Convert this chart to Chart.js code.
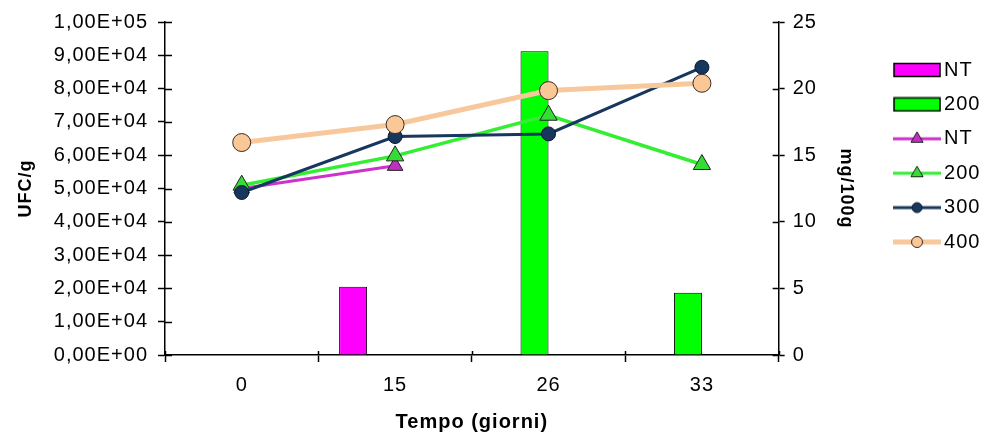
<!DOCTYPE html>
<html>
<head>
<meta charset="utf-8">
<script src="https://cdn.jsdelivr.net/npm/chart.js@4.4.0/dist/chart.umd.min.js"></script>
<style>
  html, body { margin: 0; padding: 0; background: #fff; }
  #wrap { width: 998px; height: 435px; }
</style>
</head>
<body>
<div id="wrap"><canvas id="c" width="998" height="435"></canvas></div>
<script>
// Sampling days
const giorni = ['0', '15', '26', '33'];

// UFC/g (bars, left axis)
const ufcNT  = [null, 20500, null, null];
const ufc200 = [null, null, 91200, 18700];
const ufc300 = [null, null, null, null];
const ufc400 = [null, null, null, null];

// mg/100g (lines, right axis)
const mgNT  = [12.5, 14.2, null, null];
const mg200 = [12.75, 14.95, 18.0, 14.3];
const mg300 = [12.2, 16.4, 16.6, 21.6];
const mg400 = [15.95, 17.3, 19.85, 20.4];

// Left axis ticks in Excel-style exponential notation, e.g. 1,00E+05
function expLabel(v) {
  if (v === 0) return '0,00E+00';
  const e = Math.floor(Math.log10(v));
  const m = (v / Math.pow(10, e)).toFixed(2).replace('.', ',');
  return m + 'E+' + String(e).padStart(2, '0');
}

Chart.defaults.font.family = '"Liberation Sans", Arial, sans-serif';
Chart.defaults.font.size = 20;
Chart.defaults.color = '#000';

// Legend swatches
function swatchBar(color) {
  const c = document.createElement('canvas');
  c.width = 48; c.height = 16;
  const g = c.getContext('2d');
  g.fillStyle = color;
  g.fillRect(1, 1.5, 46, 13);
  g.strokeStyle = '#000';
  g.lineWidth = 1.5;
  g.strokeRect(1, 1.5, 46, 13);
  return c;
}
function swatchLine(color, width, marker, fill, border, r) {
  const c = document.createElement('canvas');
  c.width = 48; c.height = 22;
  const g = c.getContext('2d');
  g.strokeStyle = color;
  g.lineWidth = width;
  g.beginPath(); g.moveTo(0, 11); g.lineTo(48, 11); g.stroke();
  g.fillStyle = fill;
  g.strokeStyle = border;
  g.lineWidth = 1;
  Chart.helpers.drawPoint(g, {pointStyle: marker, radius: r, rotation: 0, borderWidth: 1}, 24, 11);
  return c;
}

const legendEntries = [
  {text: 'NT',  img: swatchBar('#FF00FF')},
  {text: '200', img: swatchBar('#00FF00')},
  {text: 'NT',  img: swatchLine('#CC33CC', 3, 'triangle', '#C030C0', '#222', 7)},
  {text: '200', img: swatchLine('#33EE33', 3, 'triangle', '#33DD33', '#222', 7)},
  {text: '300', img: swatchLine('#17375E', 3, 'circle', '#17375E', '#0a1a30', 5)},
  {text: '400', img: swatchLine('#F7C89C', 5, 'circle', '#FAC896', '#3a2a20', 5.5)}
];

// Excel-style cross ticks: the inner half of each tick mark
const crossTicks = {
  id: 'crossTicks',
  beforeDraw(chart) { chart.ctx.letterSpacing = '1px'; },
  afterDraw(chart) {
    const {ctx, chartArea, scales} = chart;
    ctx.save();
    ctx.strokeStyle = '#000';
    ctx.lineWidth = 1.5;
    ctx.beginPath();
    scales.y.ticks.forEach(t => {
      const py = Math.round(scales.y.getPixelForValue(t.value)) + 0.5;
      ctx.moveTo(chartArea.left, py); ctx.lineTo(chartArea.left + 7, py);
    });
    scales.y1.ticks.forEach(t => {
      const py = Math.round(scales.y1.getPixelForValue(t.value)) + 0.5;
      ctx.moveTo(chartArea.right - 6, py); ctx.lineTo(chartArea.right, py);
    });
    for (let i = 0; i <= giorni.length; i++) {
      const px = Math.round(scales.x.getPixelForValue(i - 0.5)) + 0.5;
      ctx.moveTo(px, chartArea.bottom - 4); ctx.lineTo(px, chartArea.bottom);
    }
    ctx.stroke();
    ctx.restore();
  }
};

const axisGrid = {display: true, drawOnChartArea: false, drawTicks: true, tickLength: 7, tickColor: '#000', tickWidth: 1.5};
const axisBorder = {display: true, color: '#000', width: 1.5};

new Chart(document.getElementById('c'), {
  type: 'bar',
  data: {
    labels: giorni,
    datasets: [
      {label: 'NT',  data: ufcNT,  yAxisID: 'y', backgroundColor: '#FF00FF', borderColor: '#000', borderWidth: 1, order: 10},
      {label: '200', data: ufc200, yAxisID: 'y', backgroundColor: '#00FF00', borderColor: '#000', borderWidth: 1, order: 10},
      {label: '300', data: ufc300, yAxisID: 'y', backgroundColor: '#17375E', borderColor: '#000', borderWidth: 1, order: 10},
      {label: '400', data: ufc400, yAxisID: 'y', backgroundColor: '#FAC896', borderColor: '#000', borderWidth: 1, order: 10},
      {type: 'line', label: 'NT', data: mgNT, yAxisID: 'y1', order: 4,
       borderColor: '#CC33CC', borderWidth: 3, tension: 0,
       pointStyle: 'triangle', pointRadius: 9, pointBackgroundColor: '#C030C0', pointBorderColor: '#222', pointBorderWidth: 1},
      {type: 'line', label: '200', data: mg200, yAxisID: 'y1', order: 3,
       borderColor: '#33EE33', borderWidth: 3.5, tension: 0,
       pointStyle: 'triangle', pointRadius: 10, pointBackgroundColor: '#33DD33', pointBorderColor: '#222', pointBorderWidth: 1},
      {type: 'line', label: '300', data: mg300, yAxisID: 'y1', order: 2,
       borderColor: '#17375E', borderWidth: 3, tension: 0,
       pointStyle: 'circle', pointRadius: 7, pointBackgroundColor: '#17375E', pointBorderColor: '#0a1a30', pointBorderWidth: 1},
      {type: 'line', label: '400', data: mg400, yAxisID: 'y1', order: 1,
       borderColor: '#F7C89C', borderWidth: 5, tension: 0,
       pointStyle: 'circle', pointRadius: 9, pointBackgroundColor: '#FAC896', pointBorderColor: '#3a2a20', pointBorderWidth: 1}
    ]
  },
  options: {
    responsive: false,
    animation: false,
    events: [],
    datasets: {bar: {categoryPercentage: 0.73, barPercentage: 1}},
    layout: {padding: {left: 0, right: 10.6, top: 22, bottom: 0}},
    plugins: {
      tooltip: {enabled: false},
      legend: {
        position: 'right',
        align: 'start',
        title: {display: true, text: ' ', font: {size: 10}, padding: {top: 11.6, bottom: 0}},
        labels: {
          usePointStyle: true,
          pointStyleWidth: 34,
          padding: 14.4,
          font: {size: 20},
          color: '#000',
          generateLabels: () => legendEntries.map((e, i) => ({
            text: e.text, pointStyle: e.img, fillStyle: '#fff', strokeStyle: '#fff',
            lineWidth: 0, hidden: false, datasetIndex: i, fontColor: '#000'
          }))
        }
      }
    },
    scales: {
      x: {
        type: 'category',
        offset: true,
        grid: Object.assign({offset: true}, axisGrid),
        border: axisBorder,
        ticks: {padding: 11, font: {size: 20}},
        title: {display: true, text: 'Tempo (giorni)', font: {size: 20, weight: 'bold'}, padding: {top: 0, bottom: 1}},
        afterFit(s) { s.height = 80; }
      },
      y: {
        position: 'left',
        min: 0, max: 100000,
        grid: axisGrid,
        border: axisBorder,
        ticks: {stepSize: 10000, padding: 10, font: {size: 20}, callback: v => expLabel(v)},
        title: {display: true, text: 'UFC/g', font: {size: 18, weight: 'bold'}, padding: {top: 15.2, bottom: 0}},
        afterFit(s) { s.width = 165; }
      },
      y1: {
        position: 'right',
        min: 0, max: 25,
        grid: Object.assign({}, axisGrid, {tickLength: 6}),
        border: axisBorder,
        ticks: {stepSize: 5, padding: 8, font: {size: 20}},
        title: {display: true, text: 'mg/100g', font: {size: 18, weight: 'bold'}, padding: {top: 29.2, bottom: 0}},
        afterFit(s) { s.width = 107; }
      }
    }
  },
  plugins: [crossTicks]
});
</script>
</body>
</html>
